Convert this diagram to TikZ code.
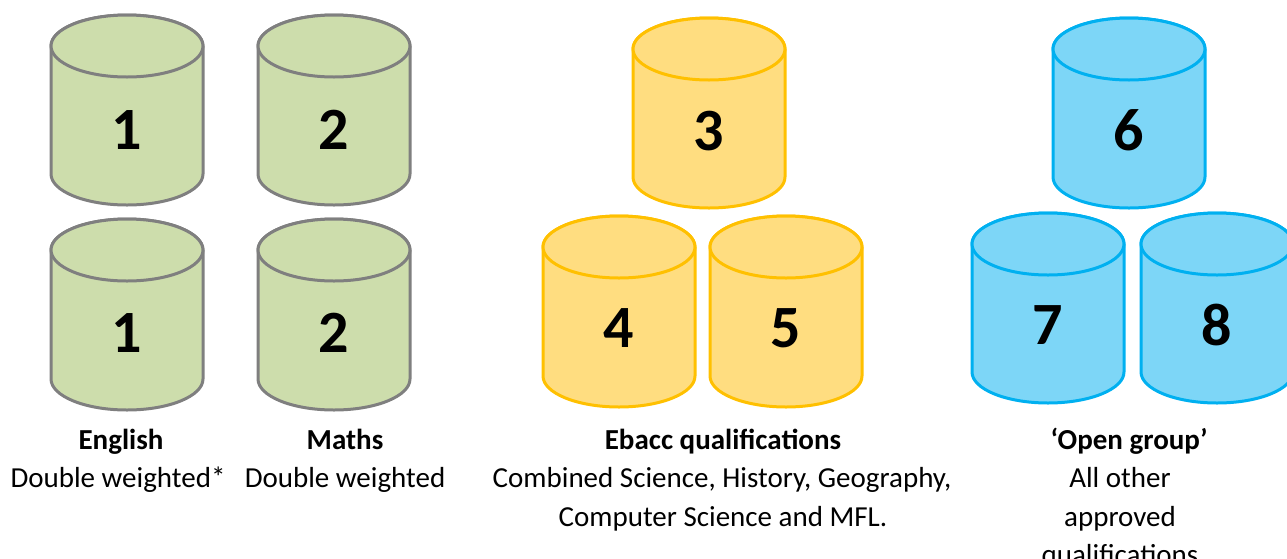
\documentclass[tikz,border=0pt]{standalone}
\usepackage{fontspec}
\setmainfont{Carlito}
\definecolor{grfill}{RGB}{205,221,172}
\definecolor{grline}{RGB}{127,127,127}
\definecolor{yefill}{RGB}{255,221,128}
\definecolor{yeline}{RGB}{255,192,0}
\definecolor{blfill}{RGB}{125,214,247}
\definecolor{blline}{RGB}{0,176,240}
\tikzset{
  greencyl/.style={fill=grfill,draw=grline},
  yellowcyl/.style={fill=yefill,draw=yeline},
  bluecyl/.style={fill=blfill,draw=blline},
  numlabel/.style={font=\fontsize{30}{36}\selectfont\bfseries,inner sep=0pt},
  headtext/.style={font=\fontsize{14.5}{19}\selectfont\bfseries,anchor=base,inner sep=0pt},
  bodytext/.style={font=\fontsize{14.5}{19}\selectfont,anchor=base,inner sep=0pt}
}
% #1 style, #2 cx, #3 top y, #4 bottom y, #5 number, #6 name, #7 number y
\newcommand\drumcyl[7]{%
  \pgfmathsetmacro\ctop{-(#3+31)}%
  \pgfmathsetmacro\cbot{-(#4-31)}%
  \path[#1,line width=1.5pt] (#2-76,\ctop) -- (#2-76,\cbot)
    arc[start angle=180,end angle=360,x radius=38pt,y radius=15.5pt]
    -- (#2+76,\ctop)
    arc[start angle=0,end angle=180,x radius=38pt,y radius=15.5pt] -- cycle;
  \path[#1,line width=1.5pt] (#2,\ctop) ellipse[x radius=38pt,y radius=15.5pt];
  \node[numlabel] (#6) at (#2,-#7) {#5};
}
\begin{document}
\begin{tikzpicture}[x=0.5pt,y=0.5pt]
\useasboundingbox (0,0) rectangle (1287,-558);
\clip (0,0) rectangle (1287,-558);
% green
\drumcyl{greencyl}{127}{15}{205}{1}{g1}{130}
\drumcyl{greencyl}{334}{15}{205}{2}{g2}{130}
\drumcyl{greencyl}{127}{219}{410}{1}{g3}{333}
\drumcyl{greencyl}{334}{219}{410}{2}{g4}{333}
% yellow
\drumcyl{yellowcyl}{709}{18}{208}{3}{y3}{131}
\drumcyl{yellowcyl}{619}{216}{407}{4}{y4}{328}
\drumcyl{yellowcyl}{786}{216}{407}{5}{y5}{328}
% blue
\drumcyl{bluecyl}{1129}{18}{208}{6}{b6}{130}
\drumcyl{bluecyl}{1048}{213}{403}{7}{b7}{325}
\drumcyl{bluecyl}{1217}{213}{403}{8}{b8}{325}
% captions
\node[headtext] (engh) at (121,-449) {English};
\node[bodytext] (engb) at (118,-487) {Double weighted*};
\node[headtext] (math) at (345,-449) {Maths};
\node[bodytext] (matb) at (345,-487) {Double weighted};
\node[headtext] (ebah) at (723,-449) {Ebacc qualifications};
\node[bodytext] (eba1) at (722,-487) {Combined Science, History, Geography,};
\node[bodytext] (eba2) at (723,-526) {Computer Science and MFL.};
\node[headtext] (openh) at (1129,-449) {‘Open group’};
\node[bodytext] (open1) at (1120,-487) {All other};
\node[bodytext] (open2) at (1120,-526) {approved};
\node[bodytext] (open3) at (1120,-564) {qualifications};
\end{tikzpicture}
\end{document}
